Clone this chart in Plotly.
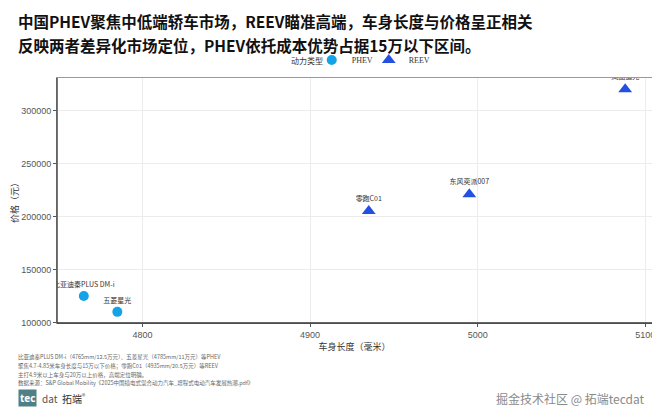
import plotly.graph_objects as go

# ---- data ----
phev_names = ["比亚迪秦PLUS DM-i", "五菱星光"]
phev_length = [4765, 4785]
phev_price = [125000, 110000]

reev_names = ["零跑C01", "东风奕派007", "岚图追光"]
reev_length = [4935, 4995, 5088]
reev_price = [205000, 221000, 320000]

x_ticks = [4800, 4900, 5000, 5100]
y_ticks = [100000, 150000, 200000, 250000, 300000]

title_lines = [
    "中国PHEV聚焦中低端轿车市场，REEV瞄准高端，车身长度与价格呈正相关",
    "反映两者差异化市场定位，PHEV依托成本优势占据15万以下区间。",
]
caption_lines = [
    "比亚迪秦PLUS DM-i（4765mm/12.5万元）、五菱星光（4785mm/11万元）等PHEV",
    "聚焦4.7-4.85米车身长度与15万以下价格；零跑C01（4935mm/20.5万元）等REEV",
    "主打4.9米以上车身与20万以上价格，高端定位明确。",
    "数据来源：S&P Global Mobility《2025中国插电式混合动力汽车_增程式电动汽车发展热潮.pdf》",
]
legend_title = "动力类型"

CJK = "Noto Sans CJK SC"
OFF = 8  # browser default body margin
W, H = 660 - OFF, 414 - OFF
# plot area in page pixels: x 50..655, y 78..323
L, R = 50 - OFF, W - (655 - OFF)
T, B = 78 - OFF, H - (323 - OFF)
PW, PH = W - L - R, H - T - B


def px(x):  # page x -> paper
    return (x - OFF - L) / PW


def py(y):  # page y -> paper
    return (H - B - (y - OFF)) / PH


fig = go.Figure()
fig.add_trace(go.Scatter(
    x=phev_length, y=phev_price, text=phev_names, name="PHEV",
    mode="markers+text", textposition="top center",
    textfont=dict(family=CJK, size=7, color="#333333"),
    marker=dict(symbol="circle", size=10, color="#14A3E6"),
    cliponaxis=True, legend="legend",
))
fig.add_trace(go.Scatter(
    x=reev_length, y=reev_price, text=reev_names, name="REEV",
    mode="markers+text", textposition="top center",
    textfont=dict(family=CJK, size=7, color="#333333"),
    marker=dict(symbol="triangle-up", size=12, color="#2350E3"),
    cliponaxis=True, legend="legend2",
))

annotations = []
for i, t in enumerate(title_lines):
    annotations.append(dict(
        text="<b>" + t + "</b>", x=px(OFF), y=py(8 + i * 23.5), xref="paper", yref="paper",
        xanchor="left", yanchor="top", showarrow=False,
        font=dict(family=CJK, size=15.5, color="#111111"),
    ))
for i, t in enumerate(caption_lines):
    annotations.append(dict(
        text=t, x=px(OFF), y=py(357 + i * 8.8), xref="paper", yref="paper",
        xanchor="left", yanchor="middle", showarrow=False,
        font=dict(family=CJK, size=5.5, color="#666666"),
    ))
# legend title
annotations.append(dict(
    text=legend_title, x=px(322), y=py(60), xref="paper", yref="paper",
    xanchor="right", yanchor="middle", showarrow=False,
    font=dict(family=CJK, size=8, color="#333333"),
))
# logo
annotations.append(dict(
    text="<b>tec</b>", x=px(OFF + 2), y=py(398), xref="paper", yref="paper",
    xanchor="left", yanchor="middle", showarrow=False, bgcolor="#4f8088",
    borderpad=1, font=dict(family="Open Sans", size=10, color="#ffffff"),
))
annotations.append(dict(
    text="dat  <span style='color:#333'>拓端</span><sup>®</sup>", x=px(OFF + 25), y=py(398),
    xref="paper", yref="paper",
    xanchor="left", yanchor="middle", showarrow=False,
    font=dict(family=CJK, size=10, color="#555555"),
))
# watermark
annotations.append(dict(
    text="掘金技术社区 @ 拓端tecdat", x=px(650), y=py(398), xref="paper", yref="paper",
    xanchor="right", yanchor="middle", showarrow=False,
    font=dict(family=CJK, size=12, color="#8a8a8a"),
))

legend_common = dict(
    orientation="h", y=py(60), xanchor="left", yanchor="middle", valign="middle",
    font=dict(family="Liberation Serif", size=8, color="#333333"),
    itemwidth=30, bgcolor="rgba(0,0,0,0)",
)

fig.update_layout(
    width=W, height=H,
    margin=dict(l=L, r=R, t=T, b=B, pad=0),
    paper_bgcolor="white", plot_bgcolor="white",
    showlegend=True,
    legend=dict(x=px(309), **legend_common),
    legend2=dict(x=px(367), **legend_common),
    annotations=annotations,
    shapes=[
        dict(type="line", xref="x domain", yref="y domain", x0=0, x1=0, y0=0, y1=1,
             line=dict(color="#555555", width=1.6)),
        dict(type="line", xref="x domain", yref="y domain", x0=0, x1=1, y0=0, y1=0,
             line=dict(color="#333333", width=1.6)),
    ],
)
fig.update_xaxes(
    range=[4749, 5104], tickvals=x_ticks, ticktext=[str(v) for v in x_ticks],
    showgrid=True, gridcolor="#ececec", gridwidth=1, zeroline=False,
    showline=True, mirror=True, linecolor="#9a9a9a", linewidth=1,
    ticks="outside", ticklen=3, tickcolor="#555555",
    tickfont=dict(family="Liberation Sans", size=9, color="#555555"),
    title=dict(text="车身长度（毫米）", standoff=0,
               font=dict(family=CJK, size=9, color="#333333")),
)
fig.update_yaxes(
    range=[99500, 330500], tickvals=y_ticks, ticktext=[str(v) for v in y_ticks],
    showgrid=True, gridcolor="#ececec", gridwidth=1, zeroline=False,
    showline=True, mirror=True, linecolor="#9a9a9a", linewidth=1,
    ticks="outside", ticklen=3, tickcolor="#555555",
    tickfont=dict(family="Liberation Sans", size=9, color="#555555"),
    title=dict(text="价格（元）", standoff=2,
               font=dict(family=CJK, size=9, color="#333333")),
)

fig.write_html("out.html")
